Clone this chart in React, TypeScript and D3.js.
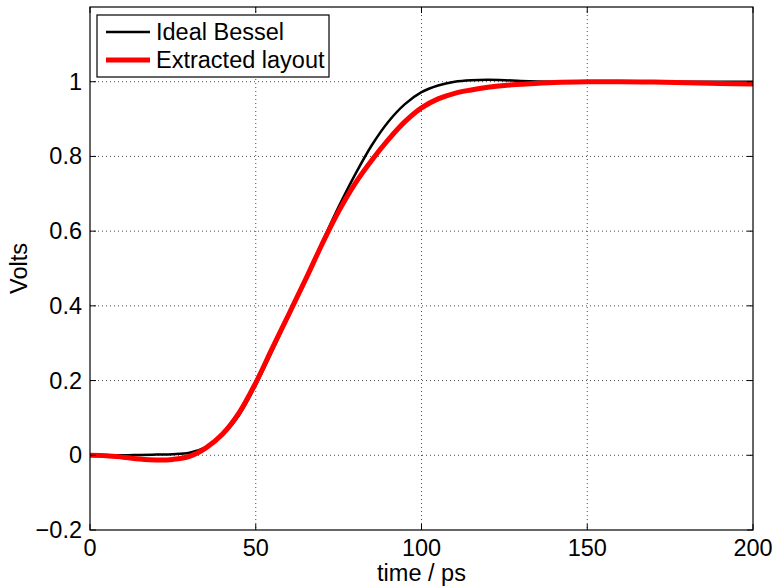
import React from "react";
import * as d3 from "d3";

const timePs = [0, 5, 10, 15, 20, 25, 30, 35, 40, 45, 50, 55, 60, 65, 70, 75, 80, 85, 90, 95, 100, 105, 110, 115, 120, 125, 130, 140, 150, 160, 170, 180, 190, 200];
const idealBessel = [0, 0, 0, 0.001, 0.002, 0.003, 0.007, 0.022, 0.054, 0.108, 0.188, 0.28, 0.374, 0.472, 0.57, 0.665, 0.752, 0.83, 0.893, 0.94, 0.972, 0.99, 1.0, 1.004, 1.005, 1.004, 1.002, 1.0, 1.0, 1.0, 1.0, 1.0, 1.0, 1.0];
const extractedLayout = [0, -0.001, -0.005, -0.01, -0.0125, -0.011, -0.003, 0.02, 0.057, 0.114, 0.194, 0.287, 0.378, 0.47, 0.565, 0.653, 0.728, 0.79, 0.845, 0.893, 0.93, 0.954, 0.969, 0.978, 0.985, 0.99, 0.993, 0.998, 1.0, 1.0, 0.999, 0.997, 0.995, 0.994];

const xTicks = [0, 50, 100, 150, 200];
const yTicks = [-0.2, 0, 0.2, 0.4, 0.6, 0.8, 1];
const legendLabels = ["Ideal Bessel", "Extracted layout"];

const W = 774;
const H = 587;
const M = { left: 90, right: 753, top: 7, bottom: 530 };
const FONT = "Liberation Sans, Arial, Helvetica, sans-serif";
const FS = 23.5;

export default function App() {
  const x = d3.scaleLinear().domain([0, 200]).range([M.left, M.right]);
  const y = d3.scaleLinear().domain([-0.2, 1.2]).range([M.bottom, M.top]);
  const line = (vals: number[]) =>
    d3
      .line<number>()
      .x((_, i) => x(timePs[i]))
      .y((v) => y(v))
      .curve(d3.curveCatmullRom.alpha(0.5))(vals) as string;
  const fmt = (v: number) => (v < 0 ? "\u2212" + Math.abs(v) : String(v));
  const tl = 6;

  return (
    <svg
      width={W}
      height={H}
      style={{ position: "absolute", left: 0, top: 0, background: "#fff" }}
      fontFamily={FONT}
    >
      <rect x={0} y={0} width={W} height={H} fill="#fff" />
      {/* grid */}
      {xTicks.slice(1, -1).map((t) => (
        <line key={"gx" + t} x1={x(t)} x2={x(t)} y1={M.top} y2={M.bottom} stroke="#000" strokeWidth={1} strokeDasharray="1,3" opacity={0.7} />
      ))}
      {yTicks.slice(1).map((t) => (
        <line key={"gy" + t} x1={M.left} x2={M.right} y1={y(t)} y2={y(t)} stroke="#000" strokeWidth={1} strokeDasharray="1,3" opacity={0.7} />
      ))}
      {/* curves */}
      <path d={line(idealBessel)} fill="none" stroke="#000" strokeWidth={2.5} />
      <path d={line(extractedLayout)} fill="none" stroke="#ff0000" strokeWidth={5} />
      {/* frame */}
      <rect x={M.left} y={M.top} width={M.right - M.left} height={M.bottom - M.top} fill="none" stroke="#000" strokeWidth={1.2} />
      {xTicks.map((t) => (
        <g key={"xt" + t}>
          <line x1={x(t)} x2={x(t)} y1={M.bottom} y2={M.bottom - tl} stroke="#000" />
          <line x1={x(t)} x2={x(t)} y1={M.top} y2={M.top + tl} stroke="#000" />
          <text x={x(t)} y={M.bottom + 26} fontSize={FS} textAnchor="middle" fill="#000">
            {fmt(t)}
          </text>
        </g>
      ))}
      {yTicks.map((t) => (
        <g key={"yt" + t}>
          <line x1={M.left} x2={M.left + tl} y1={y(t)} y2={y(t)} stroke="#000" />
          <line x1={M.right} x2={M.right - tl} y1={y(t)} y2={y(t)} stroke="#000" />
          <text x={M.left - 8} y={y(t) + 8} fontSize={FS} textAnchor="end" fill="#000">
            {fmt(t)}
          </text>
        </g>
      ))}
      {/* axis labels */}
      <text x={(M.left + M.right) / 2} y={581} fontSize={FS} textAnchor="middle" fill="#000">
        time / ps
      </text>
      <text transform={`translate(27,${(M.top + M.bottom) / 2}) rotate(-90)`} fontSize={FS} textAnchor="middle" fill="#000">
        Volts
      </text>
      {/* legend */}
      <rect x={97} y={15} width={232} height={62} fill="#fff" stroke="#000" strokeWidth={1.2} />
      <line x1={106} x2={150} y1={32} y2={32} stroke="#000" strokeWidth={2.5} />
      <line x1={106} x2={150} y1={60} y2={60} stroke="#ff0000" strokeWidth={5} />
      <text x={156} y={40} fontSize={FS} fill="#000">
        {legendLabels[0]}
      </text>
      <text x={156} y={68} fontSize={FS} fill="#000">
        {legendLabels[1]}
      </text>
    </svg>
  );
}
